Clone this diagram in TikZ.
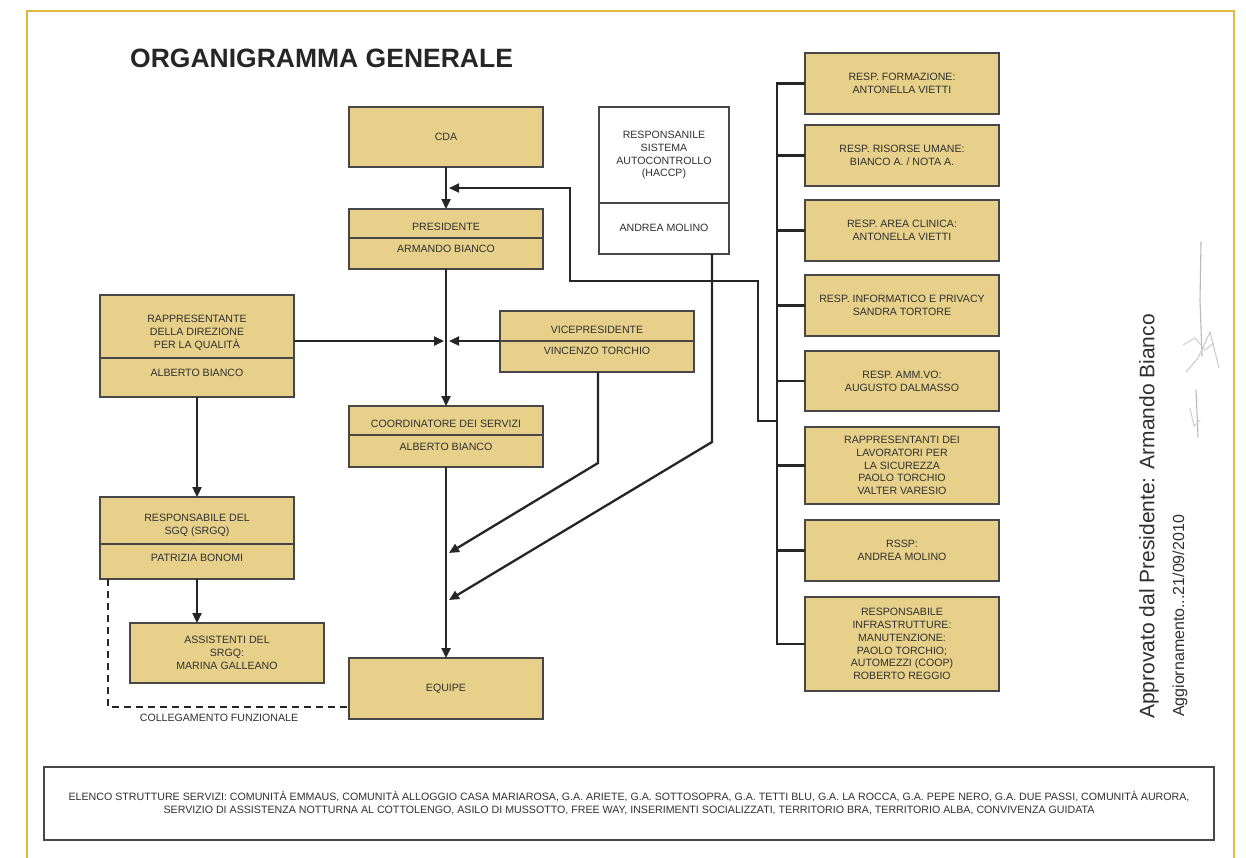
\documentclass[tikz,border=0pt]{standalone}
\usepackage{fontspec}
\setmainfont{Liberation Sans}
\usetikzlibrary{arrows.meta}
\definecolor{gold}{RGB}{225,185,60}
\definecolor{tanfill}{RGB}{231,209,138}
\definecolor{ink}{RGB}{38,38,38}
\definecolor{txt}{RGB}{48,48,48}
\begin{document}
\begin{tikzpicture}[x=1pt,y=-1pt,
  box/.style={draw=ink!85, line width=1.1pt, fill=tanfill, inner sep=0pt, outer sep=0pt},
  wbox/.style={box, fill=white},
  lbl/.style={text=txt, font=\fontsize{10.6}{12.8}\selectfont, align=center, inner sep=0pt},
  conn/.style={draw=ink, line width=2.3pt},
  arr/.style={conn, -{Triangle[length=10pt,width=9pt]}},
  divider/.style={draw=ink!85, line width=1.1pt},
]
\useasboundingbox (0,0) rectangle (1246,857);
\fill[white] (0,0) rectangle (1246,857);
% frame
\draw[gold, line width=2pt] (27,860) -- (27,11) -- (1234,11) -- (1234,860);
% title
\node[anchor=base west, inner sep=0pt, text=ink, font=\fontsize{26.5}{26.5}\selectfont\bfseries] (title) at (130,67) {ORGANIGRAMMA GENERALE};

% central column
\node[box, lbl, minimum width=194pt, minimum height=60pt] (cda) at (446,137) {CDA};
\node[box, minimum width=194pt, minimum height=60pt] (pres) at (446,239) {};
\draw[divider] (pres.west |- 0,238) -- (pres.east |- 0,238);
\node[lbl] (prest) at (446,227) {PRESIDENTE};
\node[lbl] (presn) at (446,249) {ARMANDO BIANCO};

\node[box, minimum width=194pt, minimum height=61pt] (coord) at (446,436.5) {};
\draw[divider] (coord.west |- 0,435) -- (coord.east |- 0,435);
\node[lbl] (coordt) at (446,424) {COORDINATORE DEI SERVIZI};
\node[lbl] (coordn) at (446,446.5) {ALBERTO BIANCO};

\node[box, lbl, minimum width=194pt, minimum height=61pt] (equipe) at (446,688.5) {EQUIPE};

% left column
\node[box, minimum width=194pt, minimum height=102pt] (rdq) at (197,346) {};
\draw[divider] (rdq.west |- 0,358) -- (rdq.east |- 0,358);
\node[lbl] (rdqt) at (197,332.5) {RAPPRESENTANTE\\DELLA DIREZIONE\\PER LA QUALITÀ};
\node[lbl] (rdqn) at (197,372.5) {ALBERTO BIANCO};

\node[box, minimum width=194pt, minimum height=82pt] (sgq) at (197,538) {};
\draw[divider] (sgq.west |- 0,544) -- (sgq.east |- 0,544);
\node[lbl] (sgqt) at (197,525) {RESPONSABILE DEL\\SGQ (SRGQ)};
\node[lbl] (sgqn) at (197,557.5) {PATRIZIA BONOMI};

\node[box, lbl, minimum width=194pt, minimum height=60pt] (assist) at (227,653) {ASSISTENTI DEL\\SRGQ:\\MARINA GALLEANO};

% vicepresidente
\node[box, minimum width=194pt, minimum height=61pt] (vice) at (597,341.5) {};
\draw[divider] (vice.west |- 0,341) -- (vice.east |- 0,341);
\node[lbl] (vicet) at (597,330) {VICEPRESIDENTE};
\node[lbl] (vicen) at (597,351) {VINCENZO TORCHIO};

% HACCP
\node[wbox, minimum width=130pt, minimum height=147pt] (haccp) at (664,180.5) {};
\draw[divider] (haccp.west |- 0,203) -- (haccp.east |- 0,203);
\node[lbl] (haccpt) at (664,155) {RESPONSANILE\\SISTEMA\\AUTOCONTROLLO\\(HACCP)};
\node[lbl] (haccpn) at (664,228) {ANDREA MOLINO};

% right column
\node[box, lbl, minimum width=194pt, minimum height=61pt] (r1) at (902,83.5) {RESP. FORMAZIONE:\\ANTONELLA VIETTI};
\node[box, lbl, minimum width=194pt, minimum height=61pt] (r2) at (902,155.5) {RESP. RISORSE UMANE:\\BIANCO A. / NOTA A.};
\node[box, lbl, minimum width=194pt, minimum height=61pt] (r3) at (902,230.5) {RESP. AREA CLINICA:\\ANTONELLA VIETTI};
\node[box, lbl, minimum width=194pt, minimum height=61pt] (r4) at (902,305.5) {RESP. INFORMATICO E PRIVACY\\SANDRA TORTORE};
\node[box, lbl, minimum width=194pt, minimum height=60pt] (r5) at (902,381) {RESP. AMM.VO:\\AUGUSTO DALMASSO};
\node[box, lbl, minimum width=194pt, minimum height=77pt] (r6) at (902,465.5) {RAPPRESENTANTI DEI\\LAVORATORI PER\\LA SICUREZZA\\PAOLO TORCHIO\\VALTER VARESIO};
\node[box, lbl, minimum width=194pt, minimum height=61pt] (r7) at (902,550.5) {RSSP:\\ANDREA MOLINO};
\node[box, lbl, minimum width=194pt, minimum height=94pt] (r8) at (902,644) {RESPONSABILE\\INFRASTRUTTURE:\\MANUTENZIONE:\\PAOLO TORCHIO;\\AUTOMEZZI (COOP)\\ROBERTO REGGIO};

% coordinates
\coordinate (bx) at (777,0);
\coordinate (j1) at (444,341);
\coordinate (j2) at (449,341);
\coordinate (k1) at (598,463);
\coordinate (j3) at (449,553);
\coordinate (k2) at (712,442);
\coordinate (j4) at (449,600);
\coordinate (m1) at (777,421);
\coordinate (m2) at (758,281);
\coordinate (m3) at (570,188);
\coordinate (j5) at (449,188);
\coordinate (d1) at (108,707);

% connectors
\draw[arr] (cda.south) -- (pres.north);
\draw[arr] (pres.south) -- (coord.north);
\draw[arr] (coord.south) -- (equipe.north);
\draw[arr] (rdq.east |- j1) -- (j1);
\draw[arr] (vice.west |- j2) -- (j2);
\draw[arr] (vice.south -| k1) -- (k1) -- (j3);
\draw[arr] (haccp.south -| k2) -- (k2) -- (j4);
\draw[arr] (rdq.south) -- (sgq.north);
\draw[arr] (sgq.south) -- (sgq.south |- assist.north);
\draw[conn, dashed, dash pattern=on 7pt off 5pt] (sgq.south -| d1) -- (d1) -- (d1 -| equipe.west);
\node[lbl, anchor=center] (collab) at (219,718) {COLLEGAMENTO FUNZIONALE};

% bracket
\draw[conn, line cap=rect] (bx |- r1.west) -- (bx |- r8.west);
\foreach \r in {r1,r2,r3,r4,r5,r6,r7,r8} { \draw[conn] (bx |- \r.west) -- (\r.west); }
\draw[arr] (m1) -- (m1 -| m2) -- (m2) -- (m2 -| m3) -- (m3) -- (j5);

% bottom list
\node[wbox, minimum width=1170pt, minimum height=73pt] (elenco) at (629,803.5) {};
\node[text=txt, align=center, inner sep=0pt, font=\fontsize{10.65}{13}\selectfont] (elencot) at (629,803.5) {ELENCO STRUTTURE SERVIZI: COMUNITÀ EMMAUS, COMUNITÀ ALLOGGIO CASA MARIAROSA, G.A. ARIETE, G.A. SOTTOSOPRA, G.A. TETTI BLU, G.A. LA ROCCA, G.A. PEPE NERO, G.A. DUE PASSI, COMUNITÀ AURORA,\\SERVIZIO DI ASSISTENZA NOTTURNA AL COTTOLENGO, ASILO DI MUSSOTTO, FREE WAY, INSERIMENTI SOCIALIZZATI, TERRITORIO BRA, TERRITORIO ALBA, CONVIVENZA GUIDATA};

% rotated approval text
\node[rotate=90, inner sep=0pt, text=txt, font=\fontsize{21}{21}\selectfont] (appr) at (1149,516.5) {Approvato dal Presidente: Armando Bianco};
\node[rotate=90, inner sep=0pt, text=txt, font=\fontsize{16}{16}\selectfont] (aggi) at (1180,616) {Aggiornamento...21/09/2010};

% signature
\begin{scope}[gray!55, line width=1.1pt, line cap=round]
\draw (1201,242) -- (1200,300) -- (1202,356);
\draw[gray!35] (1183,345) -- (1195,338) -- (1205,350) -- (1214,343);
\draw[gray!40] (1186,372) -- (1198,358) -- (1210,332) -- (1219,368);
\draw (1196,390) -- (1198,437);
\draw[gray!35] (1190,408) -- (1194,426) -- (1200,420);
\end{scope}
\end{tikzpicture}
\end{document}
